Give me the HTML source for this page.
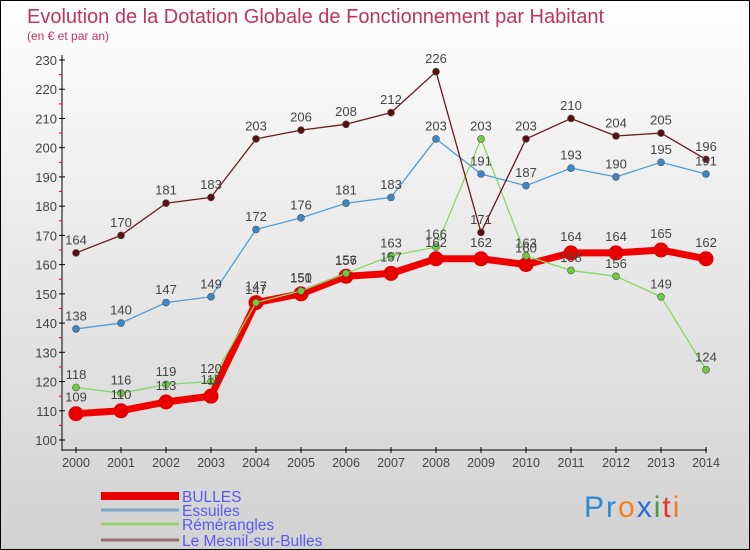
<!DOCTYPE html>
<html><head><meta charset="utf-8"><style>
body{margin:0}
#c{width:748px;height:548px;border:1px solid #000;background:linear-gradient(#fff,#f0f0f0 30%,#d2d2d2);position:relative;overflow:hidden;font-family:"Liberation Sans",sans-serif}
</style></head><body>
<div id="c">
<svg id="s" width="748" height="548" style="font-family:'Liberation Sans',sans-serif">
<text x="26" y="22" font-size="20" fill="#c0335f">Evolution de la Dotation Globale de Fonctionnement par Habitant</text>
<text x="26" y="39" font-size="12" fill="#c0335f">(en € et par an)</text>
</svg>
</div>
<script>
const years=[2000,2001,2002,2003,2004,2005,2006,2007,2008,2009,2010,2011,2012,2013,2014];
const bulles=[109,110,113,115,147,150,156,157,162,162,160,164,164,165,162];
const essuiles=[138,140,147,149,172,176,181,183,203,191,187,193,190,195,191];
const remerangles=[118,116,119,120,147,151,157,163,166,203,163,158,156,149,124];
const mesnil=[164,170,181,183,203,206,208,212,226,171,203,210,204,205,196];
const yTicks=[100,110,120,130,140,150,160,170,180,190,200,210,220,230];
const names=["BULLES","Essuiles","Rémérangles","Le Mesnil-sur-Bulles"];
const NS="http://www.w3.org/2000/svg",s=document.getElementById('s');
const X=i=>75+i*45, Y=v=>439-(v-100)*380/130;
function el(t,a,p){const e=document.createElementNS(NS,t);for(const k in a)e.setAttribute(k,a[k]);(p||s).appendChild(e);return e;}
let ax=el('line',{x1:61,y1:54,x2:61,y2:450,stroke:'#000'});

let bx=el('line',{x1:61,y1:449,x2:706,y2:449,stroke:'#000'});

yTicks.forEach(v=>{el('line',{x1:58,y1:Y(v),x2:64,y2:Y(v),stroke:'#000'});
 if(v<230)el('line',{x1:58,y1:Y(v+5),x2:61,y2:Y(v+5),stroke:'#e00'});
 const t=el('text',{x:56,y:Y(v)+5,'font-size':13,fill:'#444','text-anchor':'end'});t.textContent=v;
 });
years.forEach((y,i)=>{el('line',{x1:X(i),y1:446,x2:X(i),y2:452,stroke:'#000'});
 const t=el('text',{x:X(i),y:466,'font-size':12.5,fill:'#444','text-anchor':'middle'});t.textContent=y;
 });
const series=[[mesnil,'#6b1a1a','#5a1010',1.3,3.5,'mesnil'],[essuiles,'#4f9ed6','#3a88c8',1.3,3.5,'essuiles'],[remerangles,'#88d860','#6ccc3c',1.3,3.5,'remerangles'],[bulles,'#f00000','#e80000',7,7,'bulles']];
const order=[3,1,2,0];
order.forEach(k=>{const [d,c,f,w,r,n]=series[k];
 const p=el('polyline',{points:d.map((v,i)=>X(i)+','+Y(v)).join(' '),fill:'none',stroke:c,'stroke-width':w,'stroke-linejoin':'round'});
 
 d.forEach((v,i)=>{const ci=el('circle',{cx:X(i),cy:Y(v),r:r,fill:f,stroke:k==3?'#d00':'#555','stroke-width':k==3?1:0.6});
  });});
[3,1,2,0].forEach(k=>{const [d,,,,r,n]=series[k];d.forEach((v,i)=>{
 const t=el('text',{x:X(i),y:Y(v)-r-5,'font-size':13,fill:'#444','text-anchor':'middle'});t.textContent=v;
 });});
const lc=['#e80000','#7aa8cc','#99d070','#957070'],lw=[8,3,3,3],ly=[495,509,523,539];
names.forEach((n,i)=>{const y=ly[i];
 const l=el('line',{x1:100,y1:y,x2:178,y2:y,stroke:lc[i],'stroke-width':lw[i]});
 
 const t=el('text',{x:181,y:y+6,'font-size':15.5,fill:'#5a5af0'});t.textContent=n;
 });
const lg=el('text',{x:583,y:516,'font-size':30,'letter-spacing':2});

[['P','#2a8ad8'],['r','#2a8ad8'],['o','#f08020'],['x','#2a6ad8'],['i','#40a040'],['t','#e83030'],['i','#f08020']].forEach(([ch,c])=>{const ts=el('tspan',{fill:c},lg);ts.textContent=ch;});
</script>
</body></html>
